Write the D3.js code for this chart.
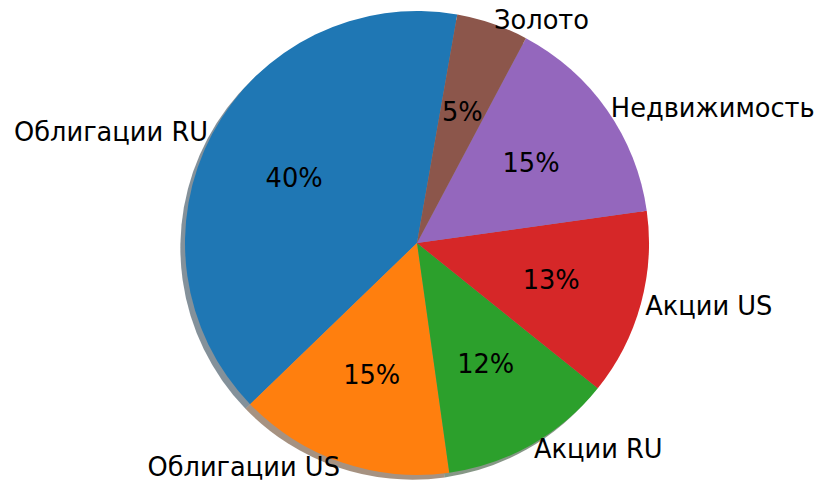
<!DOCTYPE html>
<html>
<head>
<meta charset="utf-8">
<script src="https://cdn.jsdelivr.net/npm/d3@7"></script>
<style>
  html, body { margin: 0; padding: 0; background: #fff; }
  svg { display: block; }
  text { font-family: "DejaVu Sans", sans-serif; fill: #000; }
</style>
</head>
<body>
<script>
const categories = ["Облигации RU", "Облигации US", "Акции RU", "Акции US", "Недвижимость", "Золото"];
const values = [40, 15, 12, 13, 15, 5];
const colors = ["#1f77b4", "#ff7f0e", "#2ca02c", "#d62728", "#9467bd", "#8c564b"];
const startAngleDeg = 80; // matplotlib-style, counterclockwise from 3 o'clock

const W = 819, H = 484;
const cx = 417, cy = 243, R = 232;
const labelDist = 1.02, pctDist = 0.6;
const shadowOffset = 0.02 * R;
const fontSize = 25.7;

const svg = d3.select("body").append("svg").attr("width", W).attr("height", H);

const data = categories.map((c, i) => ({ name: c, value: values[i], color: colors[i] }));
const total = d3.sum(values);

const start = (90 - startAngleDeg) * Math.PI / 180;
const pie = d3.pie().sort(null).value(d => d.value)
  .startAngle(start).endAngle(start - 2 * Math.PI);
const arcs = pie(data);

const arc = d3.arc().innerRadius(0).outerRadius(R);
const labelArc = d3.arc().innerRadius(R * labelDist).outerRadius(R * labelDist);
const pctArc = d3.arc().innerRadius(R * pctDist).outerRadius(R * pctDist);

const g = svg.append("g").attr("transform", `translate(${cx},${cy})`);

// shadows
g.append("g").attr("transform", `translate(${-shadowOffset},${shadowOffset})`)
  .selectAll("path").data(arcs).join("path")
  .attr("d", arc)
  .attr("fill", d => { const c = d3.rgb(d.data.color); return d3.rgb(c.r * 0.3, c.g * 0.3, c.b * 0.3).toString(); })
  .attr("opacity", 0.5);

// wedges
g.append("g").selectAll("path").data(arcs).join("path")
  .attr("d", arc)
  .attr("fill", d => d.data.color);

// outer labels
g.append("g").selectAll("text").data(arcs).join("text")
  .attr("x", d => labelArc.centroid(d)[0])
  .attr("y", d => labelArc.centroid(d)[1])
  .attr("dy", "0.36em")
  .attr("text-anchor", d => labelArc.centroid(d)[0] > 0 ? "start" : "end")
  .attr("font-size", fontSize)
  .text(d => d.data.name);

// percentage labels
g.append("g").selectAll("text").data(arcs).join("text")
  .attr("x", d => pctArc.centroid(d)[0])
  .attr("y", d => pctArc.centroid(d)[1])
  .attr("dy", "0.36em")
  .attr("text-anchor", "middle")
  .attr("font-size", fontSize)
  .text(d => Math.round(d.data.value / total * 100) + "%");
</script>
</body>
</html>
